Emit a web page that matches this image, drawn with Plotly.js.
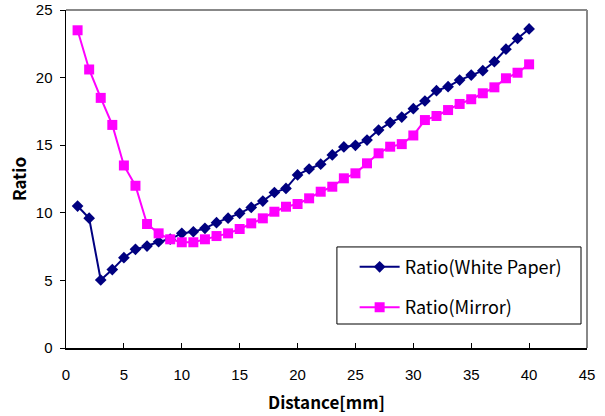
<!DOCTYPE html>
<html>
<head>
<meta charset="utf-8">
<script src="https://cdn.plot.ly/plotly-3.0.1.min.js"></script>
<style>html,body{margin:0;padding:0;background:#fff;}#chart{width:605px;height:416px;}</style>
</head>
<body>
<div id="chart"></div>
<script>
const distance = [1,2,3,4,5,6,7,8,9,10,11,12,13,14,15,16,17,18,19,20,21,22,23,24,25,26,27,28,29,30,31,32,33,34,35,36,37,38,39,40];
const ratioWhitePaper = [10.5,9.6,5.03,5.8,6.68,7.3,7.54,7.86,8.05,8.48,8.6,8.85,9.27,9.6,9.96,10.4,10.87,11.5,11.8,12.8,13.24,13.6,14.28,14.87,14.99,15.38,16.12,16.67,17.08,17.7,18.27,19.03,19.33,19.82,20.19,20.51,21.18,22.1,22.9,23.6];
const ratioMirror = [23.5,20.6,18.5,16.5,13.5,12.0,9.17,8.48,8.04,7.82,7.82,8.04,8.28,8.48,8.8,9.22,9.59,10.08,10.45,10.65,11.07,11.56,11.93,12.55,12.92,13.66,14.4,14.89,15.08,15.72,16.86,17.16,17.6,18.05,18.4,18.84,19.28,19.95,20.36,20.98];
const seriesNames = ["Ratio(White Paper)", "Ratio(Mirror)"];
const xTicks = [0,5,10,15,20,25,30,35,40,45];
const yTicks = [0,5,10,15,20,25];

const FONT = "'Noto Sans CJK JP', 'Noto Sans', sans-serif";
const NUMFONT = "'Liberation Sans', Arial, sans-serif";

const traces = [
  {x: distance, y: ratioWhitePaper, name: seriesNames[0], type: 'scatter', mode: 'lines+markers',
   legendgroup: 'a',
   line: {color: '#000080', width: 2}, marker: {symbol: 'diamond', size: 9, color: '#000080'}},
  {x: distance, y: ratioMirror, name: seriesNames[1], type: 'scatter', mode: 'lines+markers',
   legendgroup: 'b',
   line: {color: '#FF00FF', width: 2}, marker: {symbol: 'square', size: 10, color: '#FF00FF'}}
];

const layout = {
  width: 605, height: 416,
  margin: {l: 66, r: 18, t: 10, b: 68},
  paper_bgcolor: '#fff', plot_bgcolor: '#fff',
  font: {family: FONT, size: 14, color: '#000'},
  showlegend: true,
  legend: {x: 0.554, y: 0.294, xanchor: 'left', yanchor: 'top',
    bgcolor: 'rgba(0,0,0,0)', borderwidth: 0,
    font: {family: FONT, size: 18, color: '#000'},
    traceorder: 'grouped', tracegroupgap: 14, itemwidth: 40},
  xaxis: {range: [0, 45], tickmode: 'array', tickvals: xTicks, showgrid: false, zeroline: false,
    showline: true, linecolor: '#000', linewidth: 1.5,
    ticks: 'inside', ticklen: 5, tickcolor: '#000', tickwidth: 1,
    ticklabelstandoff: 12, ticklabeloverflow: 'allow',
    tickfont: {family: NUMFONT, size: 15},
    title: {text: '<b>Distance[mm]</b>', font: {family: FONT, size: 17}, standoff: 15}},
  yaxis: {range: [0, 25], tickmode: 'array', tickvals: yTicks, showgrid: false, zeroline: false,
    showline: true, linecolor: '#000', linewidth: 1.5,
    ticks: 'outside', ticklen: 5, tickcolor: '#000', tickwidth: 1,
    ticklabelstandoff: 4, ticklabeloverflow: 'allow',
    tickfont: {family: NUMFONT, size: 15},
    title: {text: '<b>Ratio</b>', font: {family: FONT, size: 17}, standoff: 5}},
  shapes: [
    {type: 'line', xref: 'paper', yref: 'paper', x0: 0, x1: 1, y0: 1, y1: 1, line: {color: '#888', width: 2}},
    {type: 'line', xref: 'paper', yref: 'paper', x0: 1, x1: 1, y0: 0, y1: 1, line: {color: '#888', width: 2}},
    {type: 'rect', xref: 'paper', yref: 'paper', x0: 0.520, x1: 0.9885, y0: 0.071, y1: 0.299,
     line: {color: '#000', width: 1}, fillcolor: 'rgba(0,0,0,0)', layer: 'above'}
  ]
};

Plotly.newPlot('chart', traces, layout, {displayModeBar: false, staticPlot: true});
</script>
</body>
</html>
